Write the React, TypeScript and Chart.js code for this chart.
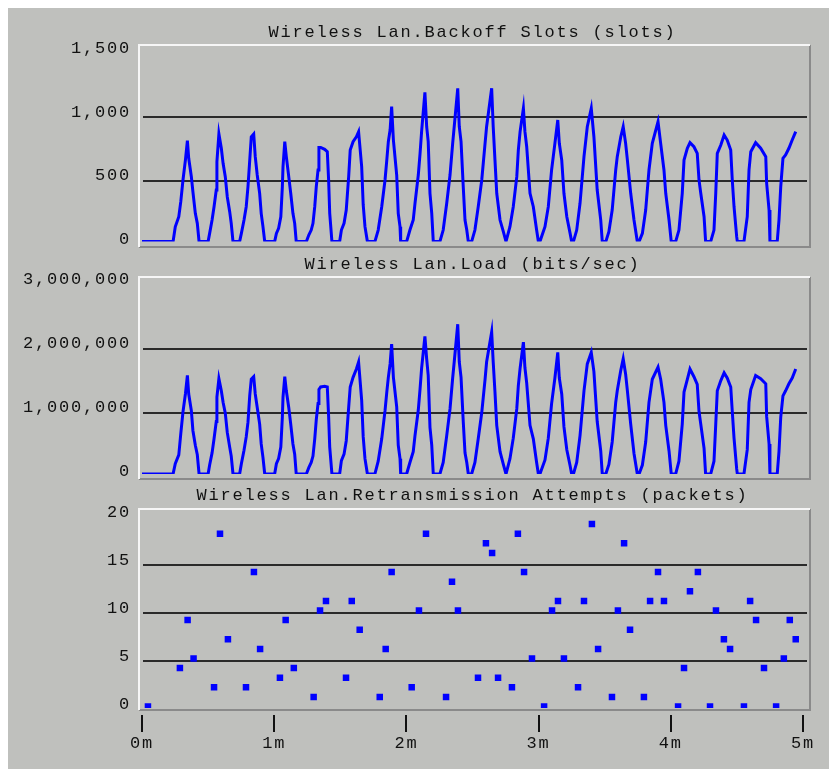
import React, { useEffect, useRef } from 'react';
import { Chart, registerables } from 'chart.js';

Chart.register(...registerables);

// ---------- data (time in seconds) ----------
const timeSec = [
  0,
  14.1, 15.1, 16.7, 17.6, 18.6, 19.7, 20.6, 21.2, 22.4, 23.1, 24.2, 25.1, 25.9,
  30.0, 30.7, 31.8, 32.7, 33.7, 34.0, 34.9, 36.0, 36.8, 37.8, 38.7, 39.8, 40.5, 41.3,
  44.3, 45.1, 46.3, 47.3, 48.1, 48.9, 49.6, 50.7, 51.4, 52.3, 53.4, 54.1, 54.9, 55.7,
  60.2, 61.0, 62.0, 63.0, 63.7, 64.0, 64.8, 65.5, 66.6, 67.5, 68.5, 69.3, 70.0,
  74.6, 75.7, 76.8, 77.6, 78.4, 79.1, 79.9, 80.3, 81.1, 82.9, 84.1, 84.7, 85.2, 86.2,
  89.7, 90.5, 91.7, 92.7, 93.8, 94.5, 95.8, 97.3, 98.3, 99.7, 100.4, 101.2, 102.3,
  105.7, 107.2, 108.8, 110.3, 111.1, 111.8, 112.6, 113.3, 114.1, 115.6, 116.3, 117.1, 117.4,
  120.1, 121.6, 123.1, 123.9, 125.4, 126.2, 126.9, 128.4, 129.2, 129.9, 130.7, 131.5, 132.2,
  135.2, 136.7, 138.3, 139.8, 141.0, 141.7, 143.3, 144.0, 144.8, 145.8, 146.6, 147.4, 148.1,
  149.6, 151.1, 152.6, 154.2, 155.7, 156.4, 158.7, 159.4, 160.2, 161.0, 162.5, 164.0, 165.2,
  167.0, 168.5, 170.1, 170.8, 171.6, 173.1, 173.8, 174.6, 176.1, 177.6, 179.1, 179.9,
  180.6, 182.9, 184.4, 185.9, 187.4, 188.7, 189.4, 190.5, 191.5, 192.8, 194.3, 195.0,
  195.8, 197.3, 198.8, 200.6, 202.1, 203.9, 205.1, 206.6, 208.2, 208.9,
  210.5, 211.9, 213.4, 215.0, 215.7, 217.3, 218.4, 219.5, 220.3, 221.8, 223.3, 224.8,
  225.6, 227.1, 228.6, 230.1, 231.6, 234.2, 235.4, 236.9, 237.7, 239.2, 240.2,
  242.2, 243.7, 245.2, 246.0, 247.5, 248.7, 250.5, 252.0, 252.8, 253.6, 255.1, 255.8,
  258.1, 259.6, 260.4, 261.1, 262.7, 264.2, 265.6, 267.2, 267.9, 268.7, 269.9, 270.2,
  273.2, 274.7, 275.5, 276.3, 278.5, 280.8, 283.1, 283.5, 284.6, 285.0,
  288.3, 289.1, 289.9, 290.9, 292.1, 293.6, 295.1, 296.7,
];

const backoffSlots = [
  0,
  0, 117, 196, 315, 486, 643, 796, 657, 512, 394, 223, 144, 0,
  0, 65, 170, 275, 407, 630, 849, 736, 617, 512, 354, 236, 144, 0,
  0, 65, 170, 275, 433, 643, 827, 849, 670, 525, 381, 223, 118, 0,
  0, 65, 105, 196, 433, 591, 788, 670, 512, 381, 223, 144, 0,
  0, 52, 91, 144, 275, 433, 565, 743, 743, 728, 709, 486, 223, 0,
  0, 91, 144, 249, 512, 722, 788, 827, 867, 591, 289, 118, 0,
  0, 91, 275, 486, 643, 788, 880, 1064, 801, 525, 223, 118, 0,
  0, 91, 170, 302, 525, 696, 867, 1177, 906, 788, 381, 223, 0,
  0, 91, 302, 525, 775, 906, 1209, 906, 788, 433, 170, 91, 0,
  0, 91, 275, 486, 775, 906, 1209, 906, 643, 381, 170, 78, 0,
  118, 275, 512, 722, 867, 1051, 867, 748, 381, 275, 91, 0,
  0, 118, 275, 565, 775, 959, 775, 643, 381, 196, 65, 0,
  0, 91, 302, 670, 906, 1051, 827, 407, 170, 0,
  0, 78, 249, 565, 670, 827, 906, 775, 643, 381, 170, 0,
  0, 65, 249, 565, 775, 946, 775, 565, 381, 170, 0,
  0, 91, 381, 643, 736, 780, 748, 696, 486, 381, 196, 0,
  0, 91, 381, 696, 762, 841, 801, 722, 486, 275, 39, 0,
  0, 196, 565, 709, 780, 736, 670, 460, 249, 0,
  0, 170, 433, 657, 683, 736, 801, 867,
];

const loadBitsPerSec = [
  0,
  0, 160000, 300000, 630000, 970000, 1250000, 1540000, 1250000, 990000, 680000, 450000, 300000, 0,
  0, 140000, 330000, 550000, 820000, 1200000, 1490000, 1300000, 1120000, 950000, 650000, 420000, 280000, 0,
  0, 160000, 370000, 580000, 810000, 1230000, 1480000, 1520000, 1250000, 1040000, 780000, 470000, 260000, 0,
  0, 160000, 240000, 420000, 890000, 1200000, 1520000, 1300000, 1040000, 780000, 470000, 310000, 0,
  0, 100000, 180000, 280000, 550000, 850000, 1100000, 1320000, 1360000, 1370000, 1360000, 900000, 420000, 0,
  0, 210000, 310000, 520000, 1040000, 1360000, 1510000, 1640000, 1750000, 1150000, 580000, 240000, 0,
  0, 200000, 550000, 990000, 1280000, 1510000, 1720000, 2030000, 1510000, 1050000, 450000, 240000, 0,
  0, 180000, 350000, 600000, 1000000, 1330000, 1650000, 2150000, 1800000, 1540000, 730000, 450000, 0,
  0, 180000, 600000, 1020000, 1500000, 1750000, 2340000, 1750000, 1510000, 820000, 330000, 180000, 0,
  0, 180000, 550000, 960000, 1480000, 1750000, 2220000, 1750000, 1280000, 760000, 350000, 150000, 0,
  240000, 560000, 1020000, 1380000, 1650000, 2060000, 1660000, 1420000, 760000, 550000, 180000, 0,
  0, 220000, 560000, 1100000, 1500000, 1900000, 1500000, 1250000, 740000, 380000, 130000, 0,
  0, 180000, 600000, 1300000, 1720000, 1900000, 1600000, 820000, 360000, 0,
  0, 150000, 500000, 1120000, 1300000, 1620000, 1800000, 1560000, 1300000, 780000, 320000, 0,
  0, 140000, 500000, 1120000, 1480000, 1670000, 1480000, 1120000, 760000, 360000, 0,
  0, 200000, 780000, 1280000, 1480000, 1640000, 1520000, 1400000, 980000, 780000, 400000, 0,
  0, 200000, 780000, 1300000, 1460000, 1580000, 1500000, 1360000, 980000, 560000, 80000, 0,
  0, 380000, 1120000, 1320000, 1540000, 1490000, 1410000, 900000, 470000, 0,
  0, 350000, 890000, 1220000, 1300000, 1410000, 1500000, 1640000,
];

const retransTimeSec = [
  2.7, 17.2, 20.7, 23.4, 32.7, 35.4, 39.0, 47.2, 50.8, 53.6,
  62.6, 65.2, 68.9, 77.9, 80.8, 83.5, 92.6, 95.2, 98.8, 107.9,
  110.6, 113.3, 122.4, 125.7, 128.9, 138.0, 140.7, 143.4, 152.5, 156.1,
  158.9, 161.6, 167.9, 170.6, 173.4, 177.0, 182.5, 186.1, 188.8, 191.5,
  197.9, 200.6, 204.2, 207.0, 213.3, 216.0, 218.8, 221.5, 227.8, 230.6,
  234.2, 236.9, 243.3, 246.0, 248.7, 252.3, 257.8, 260.5, 264.1, 266.9,
  273.2, 276.0, 278.7, 282.3, 287.8, 291.3, 294.0, 296.7,
];

const retransPackets = [
  0, 4, 9, 5, 2, 18, 7, 2, 14, 6,
  3, 9, 4, 1, 10, 11, 3, 11, 8, 1,
  6, 14, 2, 10, 18, 1, 13, 10, 3, 17,
  16, 3, 2, 18, 14, 5, 0, 10, 11, 5,
  2, 11, 19, 6, 1, 10, 17, 8, 1, 11,
  14, 11, 0, 4, 12, 14, 0, 10, 7, 6,
  0, 11, 9, 4, 0, 5, 9, 7,
];

const backoffTitle = 'Wireless Lan.Backoff Slots (slots)';
const loadTitle = 'Wireless Lan.Load (bits/sec)';
const retransTitle = 'Wireless Lan.Retransmission Attempts (packets)';

const backoffAxis = { max: 1500, step: 500 };
const loadAxis = { max: 3000000, step: 1000000 };
const retransAxis = { max: 20, step: 5 };
const timeAxis = { max: 300, step: 60 };

// ---------- styling ----------
const W = 829;
const H = 761;
const BG = '#bfc0bd';
const BLUE = '#0000ff';
const INK = '#111111';
const GRID = '#2a2a2a';
const LIGHT = '#f6f6f6';
const DARK = '#8a8a8a';
const FONT = "'Liberation Mono', 'DejaVu Sans Mono', monospace";
const FONT_SIZE = 17;

type Spec = {
  kind: 'line' | 'scatter';
  title: string;
  xs: number[];
  ys: number[];
  axis: { max: number; step: number };
  padTop: number;
  padBottom: number;
  titlePad: { top: number; bottom: number };
  showX: boolean;
  frameTop: number;
  frameBottom: number;
};

function decor(spec: Spec) {
  return {
    id: 'panelDecor',
    beforeDraw(chart: any) {
      chart.ctx.letterSpacing = '1.8px';
    },
    beforeDatasetsDraw(chart: any) {
      const { ctx, chartArea: ca, scales } = chart;
      const y = scales.y;
      ctx.save();
      const L = Math.round(ca.left) - 3;
      const R = Math.round(ca.right) + 7;
      const T = Math.round(ca.top - spec.frameTop);
      const B = Math.round(ca.bottom + spec.frameBottom);
      ctx.lineWidth = 2;
      ctx.strokeStyle = DARK;
      ctx.beginPath();
      ctx.moveTo(L, B);
      ctx.lineTo(R, B);
      ctx.lineTo(R, T);
      ctx.stroke();
      ctx.strokeStyle = LIGHT;
      ctx.beginPath();
      ctx.moveTo(L, B);
      ctx.lineTo(L, T);
      ctx.lineTo(R, T);
      ctx.stroke();
      ctx.strokeStyle = GRID;
      ctx.lineWidth = 2;
      const ticks = y.ticks;
      for (let i = 1; i < ticks.length - 1; i++) {
        const py = Math.round(y.getPixelForValue(ticks[i].value) + 2.5);
        ctx.beginPath();
        ctx.moveTo(ca.left + 1, py);
        ctx.lineTo(ca.right + 4, py);
        ctx.stroke();
      }
      ctx.restore();
    },
    afterDraw(chart: any) {
      if (!spec.showX) return;
      const { ctx, chartArea: ca, scales } = chart;
      const x = scales.x;
      ctx.save();
      ctx.strokeStyle = INK;
      ctx.lineWidth = 2;
      x.ticks.forEach((t: any) => {
        const px = Math.round(x.getPixelForValue(t.value));
        ctx.beginPath();
        ctx.moveTo(px, ca.bottom + 8.5);
        ctx.lineTo(px, ca.bottom + 25.5);
        ctx.stroke();
      });
      ctx.restore();
    },
  };
}

function buildConfig(spec: Spec): any {
  const points = spec.xs.map((t, i) => ({ x: t, y: spec.ys[i] }));
  const dataset: any =
    spec.kind === 'line'
      ? {
          data: points,
          borderColor: BLUE,
          borderWidth: 3,
          pointRadius: 0,
          tension: 0,
          fill: false,
          borderJoinStyle: 'miter',
        }
      : {
          data: points,
          showLine: false,
          pointStyle: 'rect',
          pointRadius: 4.6,
          borderWidth: 0,
          backgroundColor: BLUE,
          borderColor: BLUE,
          clip: { left: 10, top: 10, right: 10, bottom: 1.5 },
        };
  return {
    type: spec.kind,
    data: { datasets: [dataset] },
    options: {
      animation: false,
      responsive: false,
      events: [],
      layout: { padding: { top: spec.padTop, bottom: spec.padBottom, left: 0, right: 34 } },
      plugins: {
        legend: { display: false },
        tooltip: { enabled: false },
        title: {
          display: true,
          text: spec.title,
          fullSize: false,
          color: INK,
          font: { family: FONT, size: FONT_SIZE, weight: 'normal' },
          padding: spec.titlePad,
        },
      },
      scales: {
        x: {
          type: 'linear',
          min: 0,
          max: timeAxis.max,
          display: spec.showX,
          grid: { display: false, drawTicks: false },
          border: { display: false },
          ticks: {
            stepSize: timeAxis.step,
            padding: 26.3,
            maxRotation: 0,
            color: INK,
            font: { family: FONT, size: FONT_SIZE },
            callback: (v: number) => `${v / 60}m`,
          },
          afterFit: (s: any) => {
            if (spec.showX) s.height = 62.5;
            s.paddingLeft = 0;
            s.paddingRight = 0;
          },
        },
        y: {
          type: 'linear',
          min: 0,
          max: spec.axis.max,
          grid: { display: false, drawTicks: false },
          border: { display: false },
          ticks: {
            stepSize: spec.axis.step,
            padding: 11,
            labelOffset: -2.5,
            color: INK,
            font: { family: FONT, size: FONT_SIZE },
          },
          afterFit: (s: any) => {
            s.width = 134;
          },
        },
      },
    },
    plugins: [decor(spec)],
  };
}

const specs: Spec[] = [
  {
    kind: 'line',
    title: backoffTitle,
    xs: timeSec,
    ys: backoffSlots,
    axis: backoffAxis,
    padTop: 0,
    padBottom: H - 233.6,
    titlePad: { top: 13.8, bottom: 9.2 },
    showX: false,
    frameTop: 6.4,
    frameBottom: 5.4,
  },
  {
    kind: 'line',
    title: loadTitle,
    xs: timeSec,
    ys: loadBitsPerSec,
    axis: loadAxis,
    padTop: 232,
    padBottom: H - 466,
    titlePad: { top: 13.8, bottom: 7.8 },
    showX: false,
    frameTop: 5,
    frameBottom: 5,
  },
  {
    kind: 'scatter',
    title: retransTitle,
    xs: retransTimeSec,
    ys: retransPackets,
    axis: retransAxis,
    padTop: 464,
    padBottom: 0,
    titlePad: { top: 13.5, bottom: 8.6 },
    showX: true,
    frameTop: 5.5,
    frameBottom: 3.5,
  },
];

function Panel({ spec }: { spec: Spec }) {
  const ref = useRef<HTMLCanvasElement | null>(null);
  useEffect(() => {
    if (!ref.current) return;
    const chart = new Chart(ref.current, buildConfig(spec));
    return () => chart.destroy();
  }, [spec]);
  return (
    <canvas
      ref={ref}
      width={W}
      height={H}
      style={{ position: 'absolute', left: 0, top: 0, width: W, height: H, display: 'block' }}
    />
  );
}

export default function App() {
  return (
    <>
      <style>{'html,body{overflow:hidden;}'}</style>
      <div style={{ position: 'relative', width: W, height: H, background: BG }}>
        {specs.map((s, i) => (
          <Panel key={i} spec={s} />
        ))}
      </div>
    </>
  );
}
